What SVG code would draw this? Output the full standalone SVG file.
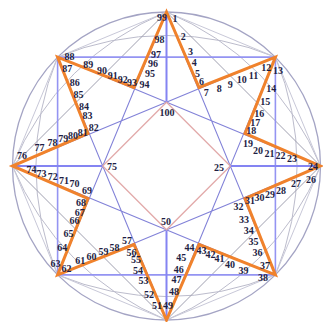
<svg xmlns="http://www.w3.org/2000/svg" width="323" height="322" viewBox="0 0 323 322">
<style>
.circ{fill:none;stroke:#a4a4c4;stroke-width:1.3}
.arc{fill:none;stroke:#bcbccc;stroke-width:1}
.oct{fill:none;stroke:#c8c8d8;stroke-width:1}
.sq{fill:none;stroke:#a0a0b0;stroke-width:1}
.st{fill:none;stroke:#8282d8;stroke-width:1.1}
.ax{fill:none;stroke:#9494f2;stroke-width:1.6}
.sp{fill:none;stroke:#8484f2;stroke-width:2}
.dia{fill:none;stroke:#e2aaaa;stroke-width:1.3}
.orange{fill:none;stroke:#f0822c;stroke-width:3;stroke-linejoin:miter}
text{font-family:"Liberation Serif","Times New Roman",serif;font-size:10px;font-weight:bold;fill:#1e1e44;text-anchor:middle}
</style>
<rect width="323" height="322" fill="#ffffff"/>
<g id="connectors">
<circle class="circ" cx="166.5" cy="166" r="154"/>
<path class="arc" d="M275.39,274.89 A284.5,284.5 0 0 1 57.61,274.89 M166.5,320 A284.5,284.5 0 0 1 12.5,166 M57.61,274.89 A284.5,284.5 0 0 1 57.61,57.11 M12.5,166 A284.5,284.5 0 0 1 166.5,12 M57.61,57.11 A284.5,284.5 0 0 1 275.39,57.11 M166.5,12 A284.5,284.5 0 0 1 320.5,166 M275.39,57.11 A284.5,284.5 0 0 1 275.39,274.89 M320.5,166 A284.5,284.5 0 0 1 166.5,320"/>
<polygon class="oct" points="166.5,12 275.39,57.11 320.5,166 275.39,274.89 166.5,320 57.61,274.89 12.5,166 57.61,57.11"/>
<polygon class="sq" points="166.5,12 320.5,166 166.5,320 12.5,166"/>
<path class="st" d="M166.5,12 L275.39,274.89 M275.39,57.11 L166.5,320 M320.5,166 L57.61,274.89 M275.39,274.89 L12.5,166 M166.5,320 L57.61,57.11 M57.61,274.89 L166.5,12 M12.5,166 L275.39,57.11 M57.61,57.11 L320.5,166"/>
<polygon class="ax" points="57.61,57.11 275.39,57.11 275.39,274.89 57.61,274.89"/>
<path class="sp" d="M166.5,12 L166.5,102.2 M320.5,166 L230.3,166 M166.5,320 L166.5,229.8 M12.5,166 L102.7,166"/>
<polygon class="dia" points="166.5,102.2 230.3,166 166.5,229.8 102.7,166"/>
<polygon class="orange" points="166.5,12 199.03,87.47 275.39,57.11 245.03,133.47 320.5,166 245.03,198.53 275.39,274.89 199.03,244.53 166.5,320 133.97,244.53 57.61,274.89 87.97,198.53 12.5,166 87.97,133.47 57.61,57.11 133.97,87.47"/>
</g>
<g id="labels">
<g id="n1"><text x="175" y="21.6">1</text></g>
<g id="n2"><text x="183.3" y="40.1">2</text></g>
<g id="n3"><text x="190.5" y="55.4">3</text></g>
<g id="n4"><text x="194.3" y="66.4">4</text></g>
<g id="n5"><text x="197.5" y="76.9">5</text></g>
<g id="n6"><text x="201.6" y="85.4">6</text></g>
<g id="n7"><text x="206.2" y="95.8">7</text></g>
<g id="n8"><text x="219.2" y="91.8">8</text></g>
<g id="n9"><text x="230.2" y="87.8">9</text></g>
<g id="n10"><text x="241.8" y="83">10</text></g>
<g id="n11"><text x="253.6" y="78.5">11</text></g>
<g id="n12"><text x="266.2" y="71.4">12</text></g>
<g id="n13"><text x="278" y="73.8">13</text></g>
<g id="n14"><text x="271.2" y="91.5">14</text></g>
<g id="n15"><text x="265.2" y="104.8">15</text></g>
<g id="n16"><text x="259.2" y="116.7">16</text></g>
<g id="n17"><text x="255.2" y="125.7">17</text></g>
<g id="n18"><text x="251.2" y="134.3">18</text></g>
<g id="n19"><text x="248" y="147.1">19</text></g>
<g id="n20"><text x="258" y="153.6">20</text></g>
<g id="n21"><text x="269.5" y="156.7">21</text></g>
<g id="n22"><text x="280.5" y="159.2">22</text></g>
<g id="n23"><text x="292" y="162.2">23</text></g>
<g id="n24"><text x="313" y="169.6">24</text></g>
<g id="n25"><text x="219" y="170.6">25</text></g>
<g id="n26"><text x="311" y="182.6">26</text></g>
<g id="n27"><text x="296" y="186.6">27</text></g>
<g id="n28"><text x="281" y="193.6">28</text></g>
<g id="n29"><text x="270" y="197.6">29</text></g>
<g id="n30"><text x="259.5" y="200.6">30</text></g>
<g id="n31"><text x="250" y="204.1">31</text></g>
<g id="n32"><text x="238.5" y="209.6">32</text></g>
<g id="n33"><text x="244" y="222.6">33</text></g>
<g id="n34"><text x="248.7" y="233.9">34</text></g>
<g id="n35"><text x="253.4" y="244.6">35</text></g>
<g id="n36"><text x="257.6" y="256.1">36</text></g>
<g id="n37"><text x="265" y="268.9">37</text></g>
<g id="n38"><text x="263" y="281.2">38</text></g>
<g id="n39"><text x="243.6" y="274.4">39</text></g>
<g id="n40"><text x="230" y="268.4">40</text></g>
<g id="n41"><text x="219.5" y="261.9">41</text></g>
<g id="n42"><text x="210.5" y="257.9">42</text></g>
<g id="n43"><text x="201.5" y="254.4">43</text></g>
<g id="n44"><text x="189.5" y="250.8">44</text></g>
<g id="n45"><text x="181.3" y="260.9">45</text></g>
<g id="n46"><text x="178.7" y="272.6">46</text></g>
<g id="n47"><text x="176.6" y="283">47</text></g>
<g id="n48"><text x="174" y="295.4">48</text></g>
<g id="n49"><text x="168" y="308.6">49</text></g>
<g id="n50"><text x="166" y="224.6">50</text></g>
<g id="n51"><text x="157" y="308.6">51</text></g>
<g id="n52"><text x="149" y="297.6">52</text></g>
<g id="n53"><text x="143.5" y="283.6">53</text></g>
<g id="n54"><text x="138" y="273.6">54</text></g>
<g id="n55"><text x="136" y="263.3">55</text></g>
<g id="n56"><text x="131.5" y="255.6">56</text></g>
<g id="n57"><text x="127" y="244.3">57</text></g>
<g id="n58"><text x="114.4" y="250.6">58</text></g>
<g id="n59"><text x="103.5" y="254.6">59</text></g>
<g id="n60"><text x="91.6" y="259.9">60</text></g>
<g id="n61"><text x="80.2" y="263.6">61</text></g>
<g id="n62"><text x="66.5" y="271.6">62</text></g>
<g id="n63"><text x="55.5" y="267">63</text></g>
<g id="n64"><text x="62.3" y="250.6">64</text></g>
<g id="n65"><text x="68.4" y="236.6">65</text></g>
<g id="n66"><text x="74.4" y="224.1">66</text></g>
<g id="n67"><text x="79.8" y="215.6">67</text></g>
<g id="n68"><text x="81" y="206.3">68</text></g>
<g id="n69"><text x="87" y="194.2">69</text></g>
<g id="n70"><text x="74.5" y="187.1">70</text></g>
<g id="n71"><text x="64" y="183.6">71</text></g>
<g id="n72"><text x="52.8" y="179.8">72</text></g>
<g id="n73"><text x="41.4" y="177.3">73</text></g>
<g id="n74"><text x="31.5" y="172.6">74</text></g>
<g id="n75"><text x="112" y="170.1">75</text></g>
<g id="n76"><text x="22" y="158.6">76</text></g>
<g id="n77"><text x="39.5" y="151.2">77</text></g>
<g id="n78"><text x="52.6" y="145.6">78</text></g>
<g id="n79"><text x="63.2" y="141.7">79</text></g>
<g id="n80"><text x="73" y="138.6">80</text></g>
<g id="n81"><text x="82.7" y="135.6">81</text></g>
<g id="n82"><text x="93.8" y="130.8">82</text></g>
<g id="n83"><text x="87.4" y="119.2">83</text></g>
<g id="n84"><text x="83.9" y="109.7">84</text></g>
<g id="n85"><text x="78.5" y="97.5">85</text></g>
<g id="n86"><text x="74.7" y="85.6">86</text></g>
<g id="n87"><text x="67.2" y="71.8">87</text></g>
<g id="n88"><text x="69.4" y="60.4">88</text></g>
<g id="n89"><text x="88.2" y="68.3">89</text></g>
<g id="n90"><text x="101.9" y="73.8">90</text></g>
<g id="n91"><text x="112.8" y="78.8">91</text></g>
<g id="n92"><text x="122.8" y="83.3">92</text></g>
<g id="n93"><text x="132.1" y="85.8">93</text></g>
<g id="n94"><text x="144.5" y="88.4">94</text></g>
<g id="n95"><text x="150" y="77.4">95</text></g>
<g id="n96"><text x="153" y="66.6">96</text></g>
<g id="n97"><text x="156" y="57.6">97</text></g>
<g id="n98"><text x="159.5" y="43.1">98</text></g>
<g id="n99"><text x="162" y="20.6">99</text></g>
<g id="n100"><text x="167" y="115.6">100</text></g>
</g>
</svg>
